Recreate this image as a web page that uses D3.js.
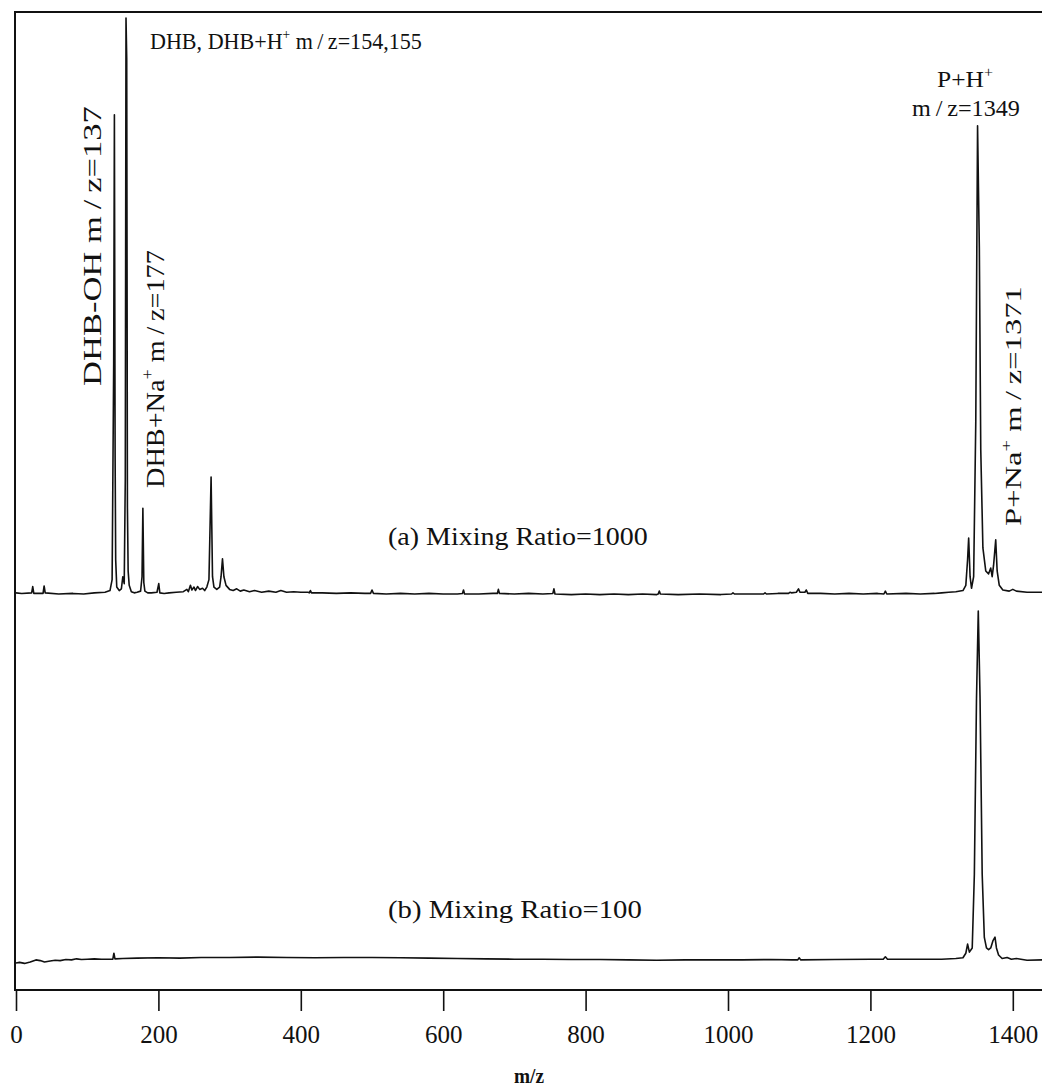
<!DOCTYPE html>
<html><head><meta charset="utf-8">
<script src="https://cdn.jsdelivr.net/npm/d3@7"></script>
<style>html,body{margin:0;padding:0;background:#fff}svg{display:block}text{font-family:"Liberation Serif","Times New Roman",serif;fill:#111}</style>
</head><body>
<svg id="c" width="1042" height="1086"></svg>
<script>
// ---- data ----
const xTicks = [0, 200, 400, 600, 800, 1000, 1200, 1400];
const xTickLabels = ["0", "200", "400", "600", "800", "1000", "1200", "1400"];
const xTitle = "m/z";
const seriesNames = ["(a) Mixing Ratio=1000", "(b) Mixing Ratio=100"];
// spectrum (a): [m/z, relative intensity]
const spectrumA = [
 [0,0.2],[8,0.1],[22,0.2],[23.5,1.3],[25,0.1],[38,0.1],[39.5,1.4],[41,0.2],[60,0.0],[80,0.1],[95,0.0],[110,0.2],[125,0.3],
 [132,0.6],[135,2.5],[137.2,40],[138.2,83.2],[139.2,24],[140,6],[141.5,1.2],[145,0.6],[148,0.9],[150,3],[152,1.8],
 [153.5,20],[154.5,100],[155.5,93],[156.5,15],[157.5,4],[159,1.5],[162,0.4],[166,0.2],[170,0.3],[175,0.5],[177,3],
 [178.2,14.9],[179.5,2],[181,0.5],[185,0.2],[190,0.2],[198,0.3],[200.5,1.8],[202,0.2],[208,0.1],[215,0.2],[225,0.3],
 [235,0.4],[240,0.8],[242,0.4],[245,1.5],[247,0.7],[250,1.2],[252,0.6],[255,1.3],[258,0.8],[262,1.0],[265,0.6],
 [268,1.2],[271,2.5],[274,20.3],[276,3],[278,1.2],[282,0.8],[286,1.2],[288,3],[290,6.1],[292,3],[295,1.5],[300,0.8],
 [305,0.6],[310,0.9],[315,0.5],[320,0.7],[328,0.4],[335,0.6],[345,0.3],[355,0.5],[365,0.3],[372,0.6],[380,0.3],
 [390,0.4],[400,0.3],[410,0.3],[412,0.2],[413.5,0.6],[415,0.2],[430,0.2],[450,0.1],[470,0.2],[490,0.1],
 [498,0.1],[500,0.7],[502,0.1],[520,0.0],[540,0.1],[560,0.0],[580,0.1],[600,0.0],[620,0.0],
 [627,0.1],[628.5,0.7],[630,0.0],[650,0.0],[670,0.1],[676,0.1],[677.5,0.8],[679,0.1],[700,0.0],[720,0.1],[740,0.0],
 [754,0.1],[755.5,0.9],[757,0.0],[780,-0.1],[800,0.0],[820,-0.1],[840,0.0],[860,-0.1],[880,0.0],[900,-0.1],
 [902,0.0],[903.5,0.5],[905,0.0],[930,-0.1],[960,0.0],[990,-0.1],[1005,0.0],[1007,0.2],[1009,0.0],[1030,0.0],
 [1050,0.0],[1052,0.2],[1054,0.0],[1070,0.1],[1085,0.1],[1087,0.3],[1089,0.2],[1096,0.3],[1099,0.9],[1101,0.3],
 [1104,0.3],[1108,0.3],[1110,0.7],[1112,0.1],[1130,0.1],[1150,0.0],[1170,0.1],[1190,0.0],[1210,0.1],[1219,0.0],
 [1221,0.5],[1223,0.0],[1250,0.1],[1270,0.0],[1290,0.1],[1300,0.2],[1310,0.3],[1320,0.4],[1330,0.6],[1334,1.5],
 [1336.5,6],[1338,9.7],[1340,3],[1342,1.0],[1345,3],[1348,30],[1350.5,81.3],[1353,60],[1355,25],[1358,8],[1362,4],
 [1366,3.5],[1369,4.5],[1371,3],[1373,5],[1376,9.4],[1378,4],[1381,1.5],[1386,0.7],[1395,0.5],[1400,0.8],[1405,0.5],
 [1420,0.3],[1441,0.3]
];
// spectrum (b)
const spectrumB = [
 [0,-0.3],[5,-0.1],[12,-0.4],[20,0.0],[28,0.6],[34,0.4],[40,0.0],[48,0.3],[55,0.5],[62,0.4],[70,0.7],[78,0.6],[85,0.9],
 [92,0.7],[100,0.8],[110,0.9],[120,0.8],[136,0.8],[137.5,2.5],[139,0.9],[150,1.0],[170,1.1],[200,1.2],[230,1.1],
 [260,1.3],[300,1.3],[340,1.4],[380,1.3],[420,1.2],[460,1.3],[500,1.3],[540,1.2],[580,1.1],[620,1.0],[660,0.9],
 [700,0.8],[740,0.8],[780,0.7],[820,0.7],[860,0.6],[900,0.5],[940,0.6],[980,0.6],[1020,0.6],[1060,0.7],[1090,0.6],
 [1098,0.6],[1100,1.2],[1102,0.6],[1150,0.7],[1200,0.8],[1218,0.8],[1221,1.5],[1224,0.8],[1260,0.8],[1300,0.8],
 [1320,1.0],[1330,1.2],[1334,2.5],[1336.5,5.1],[1339,2.8],[1343,4],[1346,25],[1349,75],[1351.5,100],[1354,75],
 [1357,25],[1360,7],[1363,4],[1366,3.5],[1369,4],[1372,6],[1375,7.1],[1377,4],[1380,2],[1385,1.0],[1392,1.3],
 [1398,0.8],[1405,1.0],[1420,0.5],[1441,0.6]
];

// ---- layout ----
const svg = d3.select("#c");
const X0 = 15, X1 = 1042, YTOP = 12, YBOT = 990;
const x = d3.scaleLinear().domain([0, 1441]).range([16, 1042]);
const yA = d3.scaleLinear().domain([0, 100]).range([594, 18]);
const yB = d3.scaleLinear().domain([0, 100]).range([962, 611]);

svg.append("defs").append("clipPath").attr("id","clip")
  .append("rect").attr("x",X0).attr("y",YTOP).attr("width",X1-X0).attr("height",YBOT-YTOP);

const lineA = d3.line().x(d => x(d[0])).y(d => yA(d[1]));
const lineB = d3.line().x(d => x(d[0])).y(d => yB(d[1]));
const g = svg.append("g").attr("clip-path","url(#clip)");
g.append("path").datum(spectrumA).attr("d", lineA)
  .attr("fill","none").attr("stroke","#111").attr("stroke-width",1.6).attr("stroke-linejoin","round");
g.append("path").datum(spectrumB).attr("d", lineB)
  .attr("fill","none").attr("stroke","#111").attr("stroke-width",1.6).attr("stroke-linejoin","round");

// frame
svg.append("path").attr("d", `M${X1},${YTOP}H${X0}V${YBOT}H${X1}`)
  .attr("fill","none").attr("stroke","#111").attr("stroke-width",2);

// x axis
const axis = d3.axisBottom(x).tickValues(xTicks).tickSize(21).tickPadding(14)
  .tickFormat((d,i) => xTickLabels[i]);
const ax = svg.append("g").attr("transform", `translate(0,${YBOT})`).call(axis);
ax.select(".domain").remove();
ax.selectAll(".tick line").attr("stroke","#111").attr("stroke-width",1.6);
ax.selectAll(".tick text").attr("font-family","Liberation Serif").attr("font-size",25).attr("fill","#111");

// label helper: parts = [text | {sup:text}], fitted to target length along its direction
function label(parts, opt){
  const t = svg.append("text").attr("font-size", opt.size).attr("text-anchor", opt.anchor || "start");
  const shift = Math.round(opt.size * 0.42);
  let up = false;
  parts.forEach(p => {
    if (typeof p === "string") {
      t.append("tspan").attr("dy", up ? shift : null).text(p); up = false;
    } else {
      t.append("tspan").attr("dy", -shift).attr("font-size", Math.round(opt.size*0.62)).text(p.sup); up = true;
    }
  });
  const w = t.node().getComputedTextLength();
  const s = opt.len ? opt.len / w : 1;
  t.attr("transform", `translate(${opt.x},${opt.y}) rotate(${opt.rot||0}) scale(${s},1)`);
  return t;
}
const MZ = "m\u2009/\u2009z";

label([xTitle], {x:529, y:1083, size:21, anchor:"middle", len:29}).attr("font-weight","bold");

label([seriesNames[0]], {x:388, y:545, size:26, len:260});
label([seriesNames[1]], {x:388, y:918, size:26, len:254});

label(["DHB, DHB+H", {sup:"+"}, " " + MZ + "=154,155"], {x:150, y:49, size:23, len:272});
label(["DHB-OH " + MZ + "=137"], {x:101, y:386, rot:-90, size:25, len:280});
label(["DHB+Na", {sup:"+"}, " " + MZ + "=177"], {x:164, y:488, rot:-90, size:25, len:238});
label(["P+H", {sup:"+"}], {x:965, y:87, size:24, anchor:"middle", len:56});
label([MZ + "=1349"], {x:966, y:116, size:24, anchor:"middle", len:108});
label(["P+Na", {sup:"+"}, " " + MZ + "=1371"], {x:1021, y:526, rot:-90, size:24, len:240});
</script>
</body></html>
